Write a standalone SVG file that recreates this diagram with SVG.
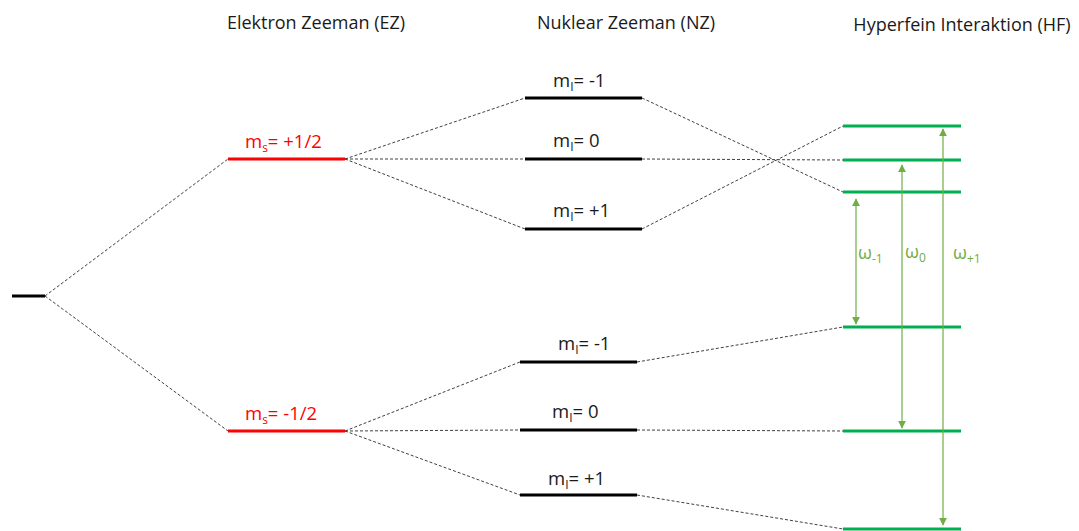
<svg xmlns="http://www.w3.org/2000/svg" width="1079" height="531" viewBox="0 0 1079 531">
<defs>
<style>
.t{font-family:"Open Sans","Liberation Sans",sans-serif;fill:#1a1a1a}
.title{font-size:18px}
.lab{font-size:18.5px}
.red{fill:#ff0000}
.om{font-size:18px;fill:#70ad47}
.lv{stroke:#000;stroke-width:3}
.lr{stroke:#ff0000;stroke-width:3}
.lg{stroke:#00b050;stroke-width:3}
.d{stroke:#404040;stroke-width:1;stroke-dasharray:3 2;fill:none}
.ar{stroke:#70ad47;stroke-width:1.2;fill:none;marker-start:url(#ah);marker-end:url(#ah)}
</style>
<marker id="ah" viewBox="0 0 10 10" refX="9" refY="5" markerWidth="8" markerHeight="8" markerUnits="userSpaceOnUse" orient="auto-start-reverse">
<path d="M0,0 L10,5 L0,10 z" fill="#70ad47"/>
</marker>
</defs>
<rect width="1079" height="531" fill="#fff"/>

<g id="titles">
<text class="t title" x="316" y="29" text-anchor="middle">Elektron Zeeman (EZ)</text>
<text class="t title" x="626" y="29" text-anchor="middle">Nuklear Zeeman (NZ)</text>
<text class="t title" x="962" y="31" text-anchor="middle">Hyperfein Interaktion (HF)</text>
</g>

<g id="connectors">
<line class="d" x1="45" y1="296" x2="228" y2="159"/>
<line class="d" x1="45" y1="296" x2="228" y2="431"/>
<line class="d" x1="345" y1="159" x2="525" y2="98"/>
<line class="d" x1="345" y1="159" x2="525" y2="159"/>
<line class="d" x1="345" y1="159" x2="525" y2="229"/>
<line class="d" x1="345" y1="431" x2="520" y2="362"/>
<line class="d" x1="345" y1="431" x2="520" y2="430"/>
<line class="d" x1="345" y1="431" x2="520" y2="495"/>
<line class="d" x1="642" y1="98" x2="843" y2="192"/>
<line class="d" x1="642" y1="159" x2="843" y2="160"/>
<line class="d" x1="642" y1="229" x2="843" y2="126"/>
<line class="d" x1="637" y1="362" x2="843" y2="327"/>
<line class="d" x1="637" y1="430" x2="843" y2="431"/>
<line class="d" x1="637" y1="495" x2="843" y2="529"/>
</g>

<g id="n0"><line class="lv" x1="12" y1="296" x2="45" y2="296"/></g>

<g id="ez-up">
<line class="lr" x1="228" y1="159" x2="345" y2="159"/>
<text class="t lab red" x="245" y="148">m<tspan font-size="12" dy="4">s</tspan><tspan dy="-4">= +1/2</tspan></text>
</g>
<g id="ez-down">
<line class="lr" x1="228" y1="431" x2="345" y2="431"/>
<text class="t lab red" x="245" y="420">m<tspan font-size="12" dy="4">s</tspan><tspan dy="-4">= -1/2</tspan></text>
</g>

<g id="nz-up-m1">
<line class="lv" x1="525" y1="98" x2="642" y2="98"/>
<text class="t lab" x="553" y="87">m<tspan font-size="12" dy="4">I</tspan><tspan dy="-4">= -1</tspan></text>
</g>
<g id="nz-up-0">
<line class="lv" x1="525" y1="159" x2="642" y2="159"/>
<text class="t lab" x="553" y="147">m<tspan font-size="12" dy="4">I</tspan><tspan dy="-4">= 0</tspan></text>
</g>
<g id="nz-up-p1">
<line class="lv" x1="525" y1="229" x2="642" y2="229"/>
<text class="t lab" x="553" y="217">m<tspan font-size="12" dy="4">I</tspan><tspan dy="-4">= +1</tspan></text>
</g>

<g id="nz-down-m1">
<line class="lv" x1="520" y1="362" x2="637" y2="362"/>
<text class="t lab" x="558" y="350">m<tspan font-size="12" dy="4">I</tspan><tspan dy="-4">= -1</tspan></text>
</g>
<g id="nz-down-0">
<line class="lv" x1="520" y1="430" x2="637" y2="430"/>
<text class="t lab" x="552" y="418">m<tspan font-size="12" dy="4">I</tspan><tspan dy="-4">= 0</tspan></text>
</g>
<g id="nz-down-p1">
<line class="lv" x1="520" y1="495" x2="637" y2="495"/>
<text class="t lab" x="548" y="485">m<tspan font-size="12" dy="4">I</tspan><tspan dy="-4">= +1</tspan></text>
</g>

<g id="hf-levels">
<line class="lg" x1="843" y1="126" x2="961" y2="126"/>
<line class="lg" x1="843" y1="160" x2="961" y2="160"/>
<line class="lg" x1="843" y1="192" x2="961" y2="192"/>
<line class="lg" x1="843" y1="327" x2="961" y2="327"/>
<line class="lg" x1="843" y1="431" x2="961" y2="431"/>
<line class="lg" x1="843" y1="529" x2="961" y2="529"/>
</g>

<g id="transitions">
<line class="ar" x1="856" y1="199" x2="856" y2="324"/>
<line class="ar" x1="902" y1="165" x2="902" y2="428"/>
<line class="ar" x1="943" y1="129" x2="943" y2="525"/>
<text class="t om" x="858" y="259">ω<tspan font-size="12" dy="4">-1</tspan></text>
<text class="t om" x="905" y="258">ω<tspan font-size="12" dy="4">0</tspan></text>
<text class="t om" x="953" y="259">ω<tspan font-size="12" dy="4">+1</tspan></text>
</g>
</svg>
